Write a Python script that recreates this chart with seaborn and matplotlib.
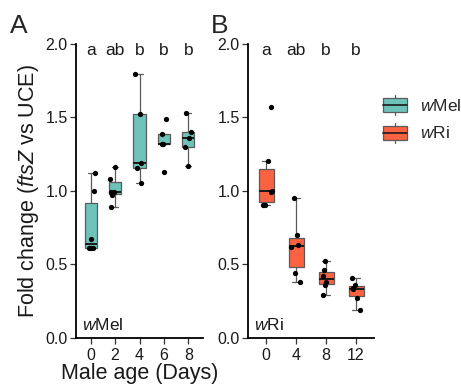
import numpy as np
import pandas as pd
import matplotlib
matplotlib.use("Agg")
import matplotlib.pyplot as plt
import seaborn as sns
from matplotlib.legend_handler import HandlerBase
from matplotlib.patches import Rectangle, Patch
from matplotlib.lines import Line2D

# ---------------- data ----------------
wmel_days = ["0", "2", "4", "6", "8"]
wmel_d0 = [0.61, 0.61, 0.61, 0.67, 1.00, 1.12]
wmel_d2 = [0.89, 0.97, 0.99, 0.99, 1.08, 1.16]
wmel_d4 = [1.05, 1.155, 1.19, 1.52, 1.79]
wmel_d6 = [1.13, 1.32, 1.32, 1.385, 1.49]
wmel_d8 = [1.17, 1.30, 1.36, 1.40, 1.53]

wri_days = ["0", "4", "8", "12"]
wri_d0 = [0.90, 0.90, 0.99, 1.00, 1.20, 1.57]
wri_d4 = [0.38, 0.44, 0.62, 0.63, 0.70, 0.95]
wri_d8 = [0.29, 0.36, 0.38, 0.42, 0.46, 0.52]
wri_d12 = [0.19, 0.27, 0.33, 0.34, 0.36, 0.41]

wmel_letters = ["a", "ab", "b", "b", "b"]
wri_letters = ["a", "ab", "b", "b"]
y_ticks = [0.0, 0.5, 1.0, 1.5, 2.0]

def long_frame(days, groups):
    rows = []
    for d, vals in zip(days, groups):
        for v in vals:
            rows.append({"day": d, "fc": v})
    return pd.DataFrame(rows)

df_mel = long_frame(wmel_days, [wmel_d0, wmel_d2, wmel_d4, wmel_d6, wmel_d8])
df_ri = long_frame(wri_days, [wri_d0, wri_d4, wri_d8, wri_d12])

# ---------------- style ----------------
sns.set_style("ticks")
plt.rcParams["font.family"] = ["Liberation Sans", "DejaVu Sans"]
plt.rcParams["mathtext.fontset"] = "custom"
plt.rcParams["mathtext.rm"] = "Liberation Sans"
plt.rcParams["mathtext.it"] = "Liberation Sans:italic"

TEAL = "#6DC3BA"
ORANGE = "#FA6242"
EDGE = "#5a5a5a"

W, H = 461, 386
fig = plt.figure(figsize=(W / 100, H / 100), dpi=100)

def px_axes(l, r, t, b):
    return fig.add_axes([l / W, 1 - b / H, (r - l) / W, (b - t) / H])

axA = px_axes(76, 203, 43.5, 338)
axB = px_axes(248, 374, 43.5, 338)

np.random.seed(3)

def draw(ax, df, days, color, letters, label):
    sns.boxplot(data=df, x="day", y="fc", order=days, ax=ax, color=color,
                width=0.5, showfliers=False, linecolor=EDGE, linewidth=0.9,
                saturation=1,
                medianprops={"color": "#1a1a1a", "linewidth": 1.4})
    sns.stripplot(data=df, x="day", y="fc", order=days, ax=ax, color="black",
                  size=3.8, jitter=0.2, linewidth=0)
    ax.set_xlim(-0.6, len(days) - 0.4)
    ax.set_ylim(0, 2.0)
    ax.set_yticks(y_ticks)
    ax.set_yticklabels([f"{t:.1f}" for t in y_ticks])
    for s in ["top", "right"]:
        ax.spines[s].set_visible(False)
    for s in ["left", "bottom"]:
        ax.spines[s].set_linewidth(1.3)
        ax.spines[s].set_color("black")
    ax.tick_params(axis="both", labelsize=11.5, length=4, width=0.9,
                   color="#333333", labelcolor="#1a1a1a")
    ax.tick_params(axis="x", pad=3)
    ax.tick_params(axis="y", pad=2)
    for i, lt in enumerate(letters):
        ax.text(i, 1.925, lt, ha="center", va="baseline", fontsize=12.5,
                color="#1a1a1a")
    ax.text(0.05, 0.027, label, transform=ax.transAxes, ha="left",
            va="baseline", fontsize=12.5, color="#1a1a1a")
    ax.set_xlabel("")
    ax.set_ylabel("")

draw(axA, df_mel, wmel_days, TEAL, wmel_letters, r"$\mathit{w}$Mel")
draw(axB, df_ri, wri_days, ORANGE, wri_letters, r"$\mathit{w}$Ri")

axA.set_xlabel("Male age (Days)", fontsize=15.5, labelpad=0, color="#1a1a1a")
axA.set_ylabel(r"Fold change ($\mathit{ftsZ}$ vs UCE)", fontsize=15.5,
               labelpad=3, color="#1a1a1a")

fig.text(10 / W, 1 - 33 / H, "A", fontsize=19, ha="left", va="baseline")
fig.text(211 / W, 1 - 33 / H, "B", fontsize=19, ha="left", va="baseline")

# ---------------- legend ----------------
class BoxHandler(HandlerBase):
    def create_artists(self, legend, orig_handle, xdescent, ydescent,
                       width, height, fontsize, trans):
        x0, y0 = -xdescent, -ydescent
        fc = orig_handle.get_facecolor()
        rb = y0 + 0.15 * height
        rt = y0 + 0.85 * height
        rect = Rectangle((x0, rb), width, rt - rb, facecolor=fc,
                         edgecolor=EDGE, linewidth=0.9, transform=trans)
        med = Line2D([x0, x0 + width], [y0 + height / 2] * 2,
                     color="#1a1a1a", linewidth=1.2, transform=trans)
        wt = Line2D([x0 + width / 2] * 2, [rt, y0 + height], color=EDGE,
                    linewidth=0.9, transform=trans)
        wb = Line2D([x0 + width / 2] * 2, [y0, rb], color=EDGE,
                    linewidth=0.9, transform=trans)
        return [wt, wb, rect, med]

handles = [Patch(facecolor=TEAL), Patch(facecolor=ORANGE)]
labels = [r"$\mathit{w}$Mel", r"$\mathit{w}$Ri"]
fig.legend(handles, labels, handler_map={Patch: BoxHandler()},
           loc="center left", bbox_to_anchor=(382.7 / W, 1 - 119 / H),
           frameon=False, fontsize=12.5, handlelength=1.4, handleheight=1.4,
           labelspacing=0.42, handletextpad=0.75, borderpad=0,
           borderaxespad=0)

fig.savefig("out.png", dpi=100)
